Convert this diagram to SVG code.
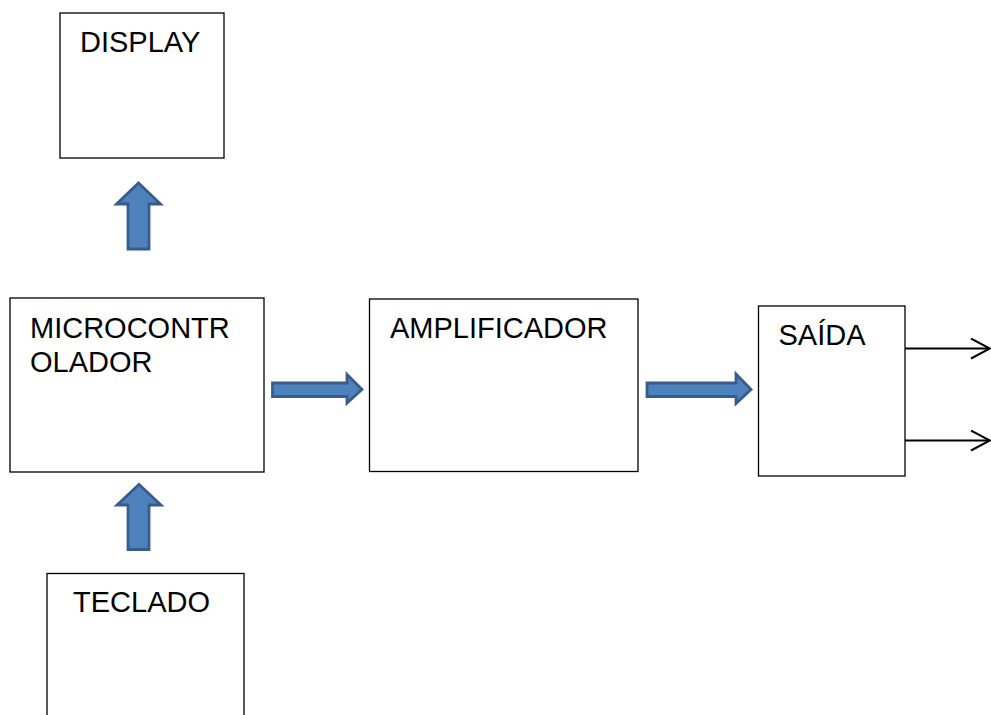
<svg xmlns="http://www.w3.org/2000/svg" width="991" height="715" viewBox="0 0 991 715">
<defs>
<style>
.box{fill:#fff;stroke:#000;stroke-width:1.3}
.lbl{font-family:"Liberation Sans",Arial,sans-serif;font-size:29px;fill:#000}
.blk{fill:#4F81BD;stroke:#385D8A;stroke-width:2.8;stroke-linejoin:miter}
.ln{stroke:#000;stroke-width:2;fill:none}
</style>
<marker id="open" markerWidth="22" markerHeight="24" refX="20" refY="11" orient="auto" markerUnits="userSpaceOnUse">
<path d="M1,1 L20,11 L1,21" fill="none" stroke="#000" stroke-width="2"/>
</marker>
</defs>
<rect width="991" height="715" fill="#fff"/>
<g id="display">
<rect class="box" x="60" y="13" width="164" height="145"/>
<text class="lbl" x="80" y="52">DISPLAY</text>
</g>
<g id="microcontrolador">
<rect class="box" x="10" y="298" width="254" height="174"/>
<text class="lbl" x="30" y="338">MICROCONTR</text>
<text class="lbl" x="30" y="371.5">OLADOR</text>
</g>
<g id="amplificador">
<rect class="box" x="369.5" y="299" width="268.5" height="172.5"/>
<text class="lbl" x="390" y="338">AMPLIFICADOR</text>
</g>
<g id="saida">
<rect class="box" x="758.5" y="306" width="146.5" height="170"/>
<text class="lbl" x="778.5" y="345">SAÍDA</text>
</g>
<g id="teclado">
<rect class="box" x="47" y="573.5" width="197" height="160"/>
<text class="lbl" x="73" y="612">TECLADO</text>
</g>
<g id="connectors">
<polygon class="blk" points="128,249 128,204 116.5,204 138.5,183 160.5,204 149,204 149,249"/>
<polygon class="blk" points="128,549.5 128,505 117,505 139,484.5 161,505 149,505 149,549.5"/>
<polygon class="blk" points="272.5,383 347,383 347,374.5 362,389.5 347,403 347,396.5 272.5,396.5"/>
<polygon class="blk" points="647,383 736,383 736,374 751,389.5 736,403.5 736,396.5 647,396.5"/>
<line class="ln" x1="905" y1="348.5" x2="990" y2="348.5" marker-end="url(#open)"/>
<line class="ln" x1="905" y1="440.5" x2="990" y2="440.5" marker-end="url(#open)"/>
</g>
</svg>
